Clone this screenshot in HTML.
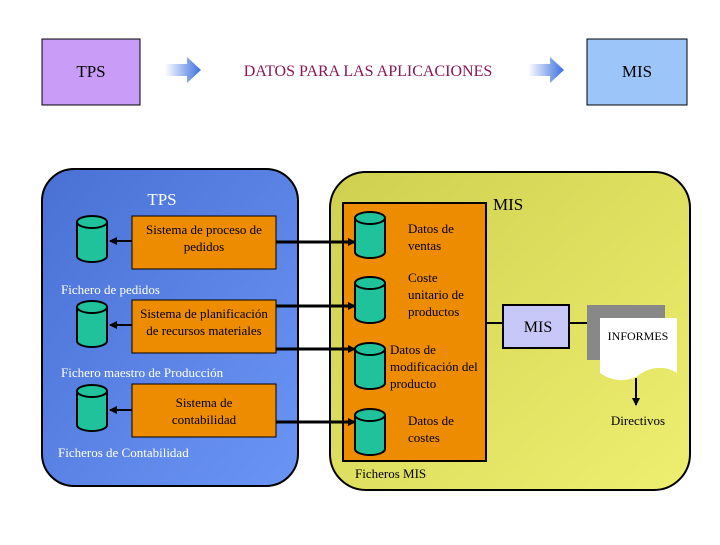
<!DOCTYPE html>
<html><head><meta charset="utf-8"><style>
body{margin:0;background:#fff;}
svg text{font-family:"Liberation Serif",serif;}
</style></head><body>
<svg width="720" height="540" viewBox="0 0 720 540" xmlns="http://www.w3.org/2000/svg">
<defs>
<linearGradient id="ar" x1="0" x2="1"><stop offset="0" stop-color="#ffffff"/><stop offset="1" stop-color="#3a6fe0"/></linearGradient>
<linearGradient id="bl" x1="0" y1="0" x2="1" y2="1"><stop offset="0" stop-color="#4a70d4"/><stop offset="1" stop-color="#6a95f5"/></linearGradient>
<linearGradient id="yl" x1="0" y1="0" x2="1" y2="1"><stop offset="0" stop-color="#cfcf50"/><stop offset="1" stop-color="#eeee70"/></linearGradient>
<marker id="m" markerWidth="8" markerHeight="8" refX="7" refY="4" orient="auto" markerUnits="userSpaceOnUse"><path d="M0,0 L8,4 L0,8z" fill="#000"/></marker>
<g id="cyl"><path d="M0,6 v34 a15,6 0 0 0 30,0 v-34" fill="#1fc29a" stroke="#000" stroke-width="2"/><ellipse cx="15" cy="6" rx="15" ry="6" fill="#1fc29a" stroke="#000" stroke-width="2"/></g>
</defs>
<rect x="42" y="39" width="98" height="66" fill="#c99cf8" stroke="#000"/>
<text x="91" y="77" text-anchor="middle" font-size="17">TPS</text>
<rect x="587" y="39" width="100" height="66" fill="#9cc6fa" stroke="#000"/>
<text x="637" y="77" text-anchor="middle" font-size="17">MIS</text>
<path d="M165,64 h22 v-7 l14,13 l-14,13 v-7 h-22z" fill="url(#ar)"/>
<path d="M528,64 h22 v-7 l14,13 l-14,13 v-7 h-22z" fill="url(#ar)"/>
<text x="368" y="76" text-anchor="middle" font-size="16" fill="#8a1656">DATOS PARA LAS APLICACIONES</text>

<rect x="42" y="169" width="256" height="317" rx="32" fill="url(#bl)" stroke="#000" stroke-width="2"/>
<rect x="330" y="172" width="360" height="318" rx="36" fill="url(#yl)" stroke="#000" stroke-width="2"/>
<text x="162" y="205" text-anchor="middle" font-size="17" fill="#fff">TPS</text>
<text x="493" y="210" font-size="17">MIS</text>

<rect x="132" y="216" width="144" height="53" fill="#ee8c00" stroke="#000"/>
<text x="204" y="234" text-anchor="middle" font-size="13">Sistema de proceso de</text>
<text x="204" y="251" text-anchor="middle" font-size="13">pedidos</text>
<rect x="132" y="300" width="144" height="53" fill="#ee8c00" stroke="#000"/>
<text x="204" y="318" text-anchor="middle" font-size="13">Sistema de planificación</text>
<text x="204" y="335" text-anchor="middle" font-size="13">de recursos materiales</text>
<rect x="132" y="384" width="144" height="53" fill="#ee8c00" stroke="#000"/>
<text x="204" y="407" text-anchor="middle" font-size="13">Sistema de</text>
<text x="204" y="424" text-anchor="middle" font-size="13">contabilidad</text>
<use href="#cyl" x="77" y="216"/><use href="#cyl" x="77" y="301"/><use href="#cyl" x="77" y="385"/>
<text x="61" y="294" font-size="13" fill="#fff">Fichero de pedidos</text>
<text x="61" y="377" font-size="13" fill="#fff">Fichero maestro de Producción</text>
<text x="58" y="457" font-size="13" fill="#fff">Ficheros de Contabilidad</text>
<g stroke="#000" stroke-width="2"><line x1="132" y1="241" x2="110" y2="241" marker-end="url(#m)"/><line x1="132" y1="325" x2="110" y2="325" marker-end="url(#m)"/><line x1="132" y1="410" x2="110" y2="410" marker-end="url(#m)"/></g>

<rect x="343" y="203" width="143" height="258" fill="#ee8c00" stroke="#000" stroke-width="2"/>
<use href="#cyl" x="355" y="212"/><use href="#cyl" x="355" y="277"/><use href="#cyl" x="355" y="343"/><use href="#cyl" x="355" y="409"/>
<g stroke="#000" stroke-width="3"><line x1="276" y1="242" x2="355" y2="242" marker-end="url(#m)"/><line x1="276" y1="306" x2="355" y2="306" marker-end="url(#m)"/><line x1="276" y1="349" x2="355" y2="349" marker-end="url(#m)"/><line x1="276" y1="422" x2="355" y2="422" marker-end="url(#m)"/></g>
<g font-size="13"><text x="408" y="233">Datos de</text><text x="408" y="250">ventas</text>
<text x="408" y="282">Coste</text><text x="408" y="299">unitario de</text><text x="408" y="316">productos</text>
<text x="390" y="354">Datos de</text><text x="390" y="371">modificación del</text><text x="390" y="388">producto</text>
<text x="408" y="425">Datos de</text><text x="408" y="442">costes</text>
<text x="355" y="478">Ficheros MIS</text></g>

<line x1="486" y1="323" x2="503" y2="323" stroke="#000" stroke-width="2"/>
<rect x="503" y="305" width="66" height="43" fill="#c8c8f8" stroke="#000" stroke-width="2"/>
<text x="538" y="332" text-anchor="middle" font-size="16">MIS</text>
<line x1="569" y1="323" x2="598" y2="323" stroke="#000" stroke-width="2" marker-end="url(#m)"/>
<rect x="587" y="305" width="78" height="55" fill="#888"/>
<path d="M600,318 h77 v55 c-12,-8 -28,-6 -38,2 c-12,8 -28,6 -39,-2z" fill="#fff"/>
<text x="638" y="340" text-anchor="middle" font-size="12">INFORMES</text>
<line x1="636" y1="378" x2="636" y2="405" stroke="#000" stroke-width="2" marker-end="url(#m)"/>
<text x="638" y="425" text-anchor="middle" font-size="13">Directivos</text>
</svg>
</body></html>
